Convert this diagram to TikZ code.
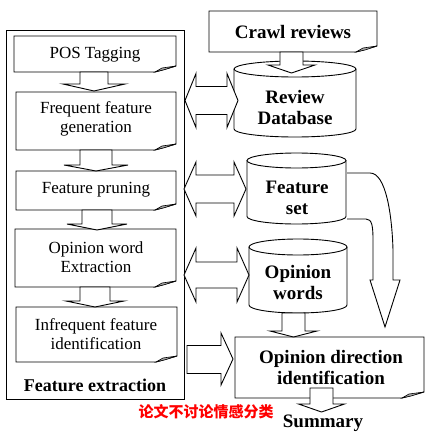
\documentclass[tikz,border=0pt]{standalone}
\usepackage{fontspec}
\setmainfont{Liberation Serif}
\newfontfamily\cjk{Noto Sans CJK SC}
\begin{document}
\begin{tikzpicture}[x=1pt,y=-1pt,line width=0.9pt,
  lefttext/.style={font=\fontsize{17}{19}\selectfont,align=center,inner sep=0pt},
  righttext/.style={font=\fontsize{19}{21}\selectfont\bfseries,align=center,inner sep=0pt},
  arrowshape/.style={draw=black,fill=white,line join=miter},
  foldfill/.style={fill=black!35,draw=black,line width=0.6pt}]
\useasboundingbox (0,0) rectangle (432,436);

% folded-corner box
\newcommand\docbox[4]{%
  \draw[fill=white] (#1,#2) -- (#3,#2) -- (#3,#4-6) -- (#3-21,#4) -- (#1,#4) -- cycle;
  \draw[foldfill] (#3-21,#4) -- (#3-14,#4-4) -- (#3,#4-6) -- (#3-12,#4-2.2) -- cycle;
}
% cylinder
\newcommand\drawcyl[5]{%
  \pgfmathsetmacro\cxm{(#1+#2)/2}\pgfmathsetmacro\crx{(#2-#1)/2}%
  \pgfmathsetmacro\ctc{#3+#5}\pgfmathsetmacro\cbc{#4-#5}%
  \pgfmathsetmacro\kx{0.5523*\crx}\pgfmathsetmacro\ky{0.5523*#5}%
  \draw[fill=white] (#1,\ctc) -- (#1,\cbc) .. controls (#1,\cbc+\ky) and (\cxm-\kx,#4) .. (\cxm,#4)
     .. controls (\cxm+\kx,#4) and (#2,\cbc+\ky) .. (#2,\cbc) -- (#2,\ctc);
  \draw (\cxm,\ctc) ellipse[x radius=\crx, y radius=#5];
}
% down block arrow: center x, shaft half, head half, y top, y head base, y tip
\newcommand\blockdown[6]{%
  \draw[arrowshape] (#1-#2,#4) -- (#1-#2,#5) -- (#1-#3,#5) -- (#1,#6) -- (#1+#3,#5) -- (#1+#2,#5) -- (#1+#2,#4) -- cycle;
}
% double horizontal block arrow: xL, xR, center y, shaft half, head half, head length
\newcommand\dblarrow[6]{%
  \draw[arrowshape] (#1,#3) -- (#1+#6,#3-#5) -- (#1+#6,#3-#4) -- (#2-#6,#3-#4) -- (#2-#6,#3-#5) -- (#2,#3)
    -- (#2-#6,#3+#5) -- (#2-#6,#3+#4) -- (#1+#6,#3+#4) -- (#1+#6,#3+#5) -- cycle;
}

% outer left frame
\draw (6,30) rectangle (184,399);

% left boxes
\docbox{14}{36}{176}{72}
\docbox{16}{92}{176}{150}
\docbox{16}{171}{176}{210}
\docbox{15}{229}{176}{287}
\docbox{16}{307}{177}{362}

\node[lefttext] (pos) at (95,55) {POS Tagging};
\node[lefttext] (freq) at (96,119) {Frequent feature\\generation};
\node[lefttext] (prune) at (96,190) {Feature pruning};
\node[lefttext] (opext) at (96,257.5) {Opinion word\\Extraction};
\node[lefttext] (infreq) at (96,334.5) {Infrequent feature\\identification};
\node[font=\fontsize{18}{20}\selectfont\bfseries,inner sep=0pt] (fe) at (95,385) {Feature extraction};

% left down arrows
\blockdown{94}{14}{31}{72}{84}{91}
\blockdown{96}{16}{32}{150}{165}{171}
\blockdown{97}{15}{30}{210}{224}{230}
\blockdown{95}{15}{29}{287}{301}{307}

% right side
\draw[fill=white] (209,11) -- (377,11) -- (377,46) -- (356,52) -- (209,52) -- cycle;
\draw[foldfill] (356,52) -- (363,48) -- (377,46) -- (365,50) -- cycle;
\node[righttext] (crawl) at (293,32) {Crawl reviews};

\drawcyl{234}{356}{61}{137}{8}
\drawcyl{247}{346}{153}{224}{7.5}
\drawcyl{249}{347}{239}{313}{8}

\blockdown{291.5}{11.5}{23.5}{52}{65}{73}

\node[righttext] (rdb) at (295,107.5) {Review\\Database};
\node[righttext] (fset) at (297,198) {Feature\\set};
\node[righttext] (ow) at (298,282) {Opinion\\words};

% opinion direction box
\draw[fill=white] (235,337) -- (424,337) -- (424,392) -- (402,398) -- (235,398) -- cycle;
\draw[foldfill] (402,398) -- (409,394) -- (424,392) -- (411,396) -- cycle;
\node[righttext] (odi) at (331,367) {Opinion direction\\identification};

\blockdown{293.5}{11.5}{23.5}{313}{331}{337}
\blockdown{321.5}{11.5}{23}{388}{404}{412}
\node[righttext] (sum) at (323,423) {Summary};

% bent arrow from feature set
\draw[arrowshape] (347,173) -- (370,173) .. controls (386,173) and (392,215) .. (393,250) -- (393,280)
  -- (400,280) -- (385,327) -- (370,280) -- (373,280) -- (373,240)
  .. controls (373,226) and (372,219) .. (366,219) -- (347,219);

% double arrows
\dblarrow{185}{238}{100.5}{14}{27}{11}
\dblarrow{184}{246}{189}{14}{27}{12}
\dblarrow{184}{249}{275}{13}{27}{12}
% single arrow to opinion direction
\draw[arrowshape] (187,345.5) -- (221,345.5) -- (221,333) -- (233,359) -- (221,385) -- (221,373.5) -- (187,373.5) -- cycle;

% red note
\node[font=\cjk\bfseries\fontsize{15}{17}\selectfont,text=red,inner sep=0pt] (note) at (206,412) {论文不讨论情感分类};
\end{tikzpicture}
\end{document}
